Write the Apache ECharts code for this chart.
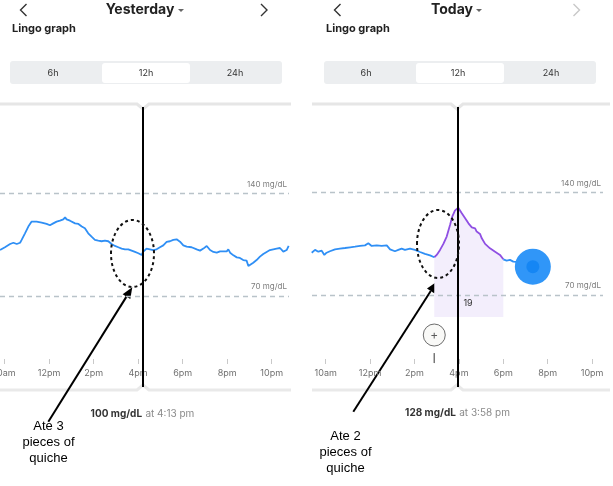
<!DOCTYPE html>
<html>
<head>
<meta charset="utf-8">
<script src="https://cdn.jsdelivr.net/npm/echarts@6/dist/echarts.min.js"></script>
<style>
  html, body { margin: 0; padding: 0; background: #ffffff; }
  #chart { width: 613px; height: 486px; }
</style>
</head>
<body>
<div id="chart"></div>
<script>
// ---------------- data ----------------
const tickHours = [10, 12, 14, 16, 18, 20, 22];
const tickLabels = ['10am', '12pm', '2pm', '4pm', '6pm', '8pm', '10pm'];
const rangeLabels = ['140 mg/dL', '70 mg/dL'];
const rangeValues = [140, 70];

// Yesterday
const leftHours = [9.80,10.02,10.25,10.40,10.55,10.70,10.77,10.92,11.07,11.22,11.29,11.44,11.52,11.67,11.89,12.04,12.19,12.34,12.49,12.64,12.72,12.79,12.94,13.02,13.17,13.32,13.47,13.61,13.76,13.91,14.06,14.21,14.36,14.51,14.66,14.81,14.96,15.11,15.26,15.41,15.56,15.71,15.86,16.01,16.16,16.22,16.38,16.53,16.68,16.83,16.98,17.13,17.28,17.43,17.58,17.73,17.88,18.03,18.18,18.40,18.63,18.78,18.93,19.08,19.15,19.23,19.38,19.53,19.68,19.83,19.98,20.05,20.13,20.28,20.43,20.50,20.57,20.72,20.87,20.95,21.02,21.17,21.32,21.47,21.62,21.77,21.92,22.07,22.22,22.37,22.52,22.67,22.76];
const leftValues = [101.3,103.2,105.4,106.3,105.4,106.3,108.2,112.7,117.3,120.7,121.8,120.7,121.8,120.0,119.1,118.2,119.5,120.7,121.3,122.2,123.6,122.2,121.3,122.2,119.5,119.1,117.3,116.1,112.7,110.4,108.2,107.7,107.3,107.7,107.3,105.4,104.1,103.2,102.3,101.8,101.8,100.9,100.0,99.1,97.9,100.0,102.3,101.8,101.3,101.8,103.2,104.5,106.8,107.3,108.2,108.6,107.0,104.5,103.6,103.2,101.8,100.9,102.3,104.1,103.6,101.3,100.0,99.5,100.4,100.4,100.4,101.8,99.5,97.7,96.3,95.4,95.9,94.5,94.1,90.4,91.3,92.7,94.5,96.8,98.6,100.0,101.3,101.8,102.3,102.7,100.2,101.3,104.1];
const leftCursorHour = 16.22;   // 4:13 pm
const leftReading = '100 mg/dL';
const leftReadingTime = 'at 4:13 pm';

// Today
const rightPreHours = [9.37,9.52,9.67,9.82,9.94,10.04,10.19,10.42,10.64,10.87,11.10,11.32,11.55,11.77,11.92,12.07,12.30,12.52,12.75,12.90,13.12,13.27,13.42,13.57,13.80,14.02,14.25,14.47,14.70,14.89];
const rightPreValues = [98.8,100.7,99.5,100.2,97.3,98.8,99.8,101.1,101.6,102.0,102.5,102.9,103.4,103.8,105.2,103.4,103.8,103.4,103.8,101.1,99.8,100.7,101.6,100.7,101.6,100.7,99.3,98.0,97.0,95.7];
const rightMealHours = [14.89,15.00,15.15,15.30,15.45,15.60,15.70,15.82,15.97,16.13,16.28,16.43,16.58,16.73,16.80,16.95,17.03,17.18,17.40,17.63,17.85,18.00];
const rightMealValues = [95.7,97.3,100.7,104.8,109.8,117.7,123.4,127.5,129.5,125.7,122.3,118.8,116.1,115.4,113.2,111.6,108.6,104.8,101.8,99.5,97.3,94.3];
const rightPostHours = [18.00,18.15,18.30,18.45,18.60,18.75,18.90,19.32];
const rightPostValues = [94.3,93.4,93.9,92.7,92.5,90.4,89.3,89.3];
const latestHour = 19.33;
const latestValue = 89.3;
const rightCursorHour = 15.97;  // 3:58 pm
const rightReading = '128 mg/dL';
const rightReadingTime = 'at 3:58 pm';
const mealHour = 14.89;
const mealScore = '19';

// ---------------- helpers ----------------
const zip = (xs, ys) => xs.map((x, i) => [x, ys[i]]);
const FONT = 'Inter, "Noto Sans", sans-serif';
const BLUE = '#2f8ff5';
const PURPLE = '#8f4fe3';

function labelFor(v) {
  const i = tickHours.findIndex(h => Math.abs(h - v) < 1e-6);
  return i >= 0 ? tickLabels[i] : '';
}

function xAxisFor(gridIndex, min, max) {
  return {
    type: 'value', gridIndex, min, max, offset: -28,
    axisLine: { show: false },
    splitLine: { show: false },
    axisTick: { show: true, customValues: tickHours, length: 5, lineStyle: { color: '#c9c9c9', width: 1 } },
    axisLabel: { customValues: tickHours, formatter: labelFor, fontSize: 9, color: '#6f6f6f', margin: 10, fontFamily: FONT, hideOverlap: false }
  };
}
function yAxisFor(gridIndex, min, max) {
  return { type: 'value', gridIndex, min, max, show: false, splitLine: { show: false } };
}

function rangeMarkLine(cursorHour) {
  return {
    silent: true,
    symbol: 'none',
    animation: false,
    data: [
      { yAxis: rangeValues[0], lineStyle: { color: '#b9c3c9', type: [5, 4], width: 1.3 },
        label: { show: true, position: 'insideEndTop', formatter: rangeLabels[0], color: '#7d7d7d', fontSize: 8, fontFamily: FONT, distance: [2, 5] } },
      { yAxis: rangeValues[1], lineStyle: { color: '#b9c3c9', type: [5, 4], width: 1.3 },
        label: { show: true, position: 'insideEndTop', formatter: rangeLabels[1], color: '#7d7d7d', fontSize: 8, fontFamily: FONT, distance: [2, 5] } },
      { xAxis: cursorHour, lineStyle: { color: '#000', type: 'solid', width: 2 }, label: { show: false } }
    ]
  };
}

function arrow(x1, y1, x2, y2) {
  const dx = x2 - x1, dy = y2 - y1, L = Math.hypot(dx, dy);
  const ux = dx / L, uy = dy / L, px = -uy, py = ux;
  const hl = 11, hw = 4.5;
  const bx = x2 - ux * hl, by = y2 - uy * hl;
  return [
    { type: 'line', shape: { x1, y1, x2: bx, y2: by }, style: { stroke: '#000', lineWidth: 2 } },
    { type: 'polygon', shape: { points: [[x2, y2], [bx + px * hw, by + py * hw], [bx - px * hw, by - py * hw]] }, style: { fill: '#000' } }
  ];
}

function chevron(x, dir, color) {
  return { type: 'polyline', shape: { points: [[x + 3 * dir, 4], [x - 3 * dir, 10], [x + 3 * dir, 16]] }, style: { stroke: color, lineWidth: 1.4, fill: 'none' } };
}

function header(cx, title, leftX, rightX, rightColor, segX, segW, selX, selW, segLabels) {
  const els = [
    chevron(leftX, 1, '#333'),
    chevron(rightX, -1, rightColor),
    { type: 'text', x: cx, y: 10, style: { text: title, font: 'bold 14px ' + FONT, fill: '#222', align: 'center', verticalAlign: 'middle' } },
    { type: 'text', x: segX + 2, y: 29, style: { text: 'Lingo graph', font: 'bold 11px ' + FONT, fill: '#222', align: 'left', verticalAlign: 'middle' } },
    { type: 'rect', shape: { x: segX, y: 61, width: segW, height: 23, r: 3 }, style: { fill: '#eceef0' } },
    { type: 'rect', shape: { x: selX, y: 63, width: selW, height: 20, r: 3 }, style: { fill: '#ffffff' } }
  ];
  segLabels.forEach(s => els.push({ type: 'text', x: s[0], y: 73, style: { text: s[1], font: '9px ' + FONT, fill: '#333', align: 'center', verticalAlign: 'middle' } }));
  return els;
}

function cardEdges(x0, x1, notchX) {
  return [
    { type: 'polyline', shape: { points: [[x0, 104], [notchX - 6, 104], [notchX, 109], [notchX + 6, 104], [x1, 104]] }, style: { stroke: '#e6e6e6', lineWidth: 3, fill: 'none' } },
    { type: 'polyline', shape: { points: [[x0, 390], [notchX - 6, 390], [notchX, 385], [notchX + 6, 390], [x1, 390]] }, style: { stroke: '#e9e9e9', lineWidth: 3, fill: 'none' } }
  ];
}

function reading(cx, y, value, time) {
  return { type: 'text', x: cx, y, style: {
    text: '{b|' + value + '} {g|' + time + '}', align: 'center', verticalAlign: 'middle',
    rich: { b: { fontSize: 10, fontWeight: 'bold', fill: '#333', color: '#333', fontFamily: FONT },
            g: { fontSize: 10, fill: '#8a8a8a', color: '#8a8a8a', fontFamily: FONT } } } };
}

function note(cx, y0, lines) {
  return lines.map((t, i) => ({ type: 'text', x: cx, y: y0 + i * 16, style: { text: t, font: '13px "Liberation Sans", Arial, sans-serif', fill: '#000', align: 'center', verticalAlign: 'middle' } }));
}

// ---------------- option ----------------
const graphic = [].concat(
  header(140, 'Yesterday', 23.5, 264, '#333', 10, 272, 102, 88, [[53, '6h'], [146, '12h'], [235, '24h']]),
  [{ type: 'polygon', shape: { points: [[178, 9], [184, 9], [181, 12]] }, style: { fill: '#666' } }],
  header(452, 'Today', 337.5, 576.5, '#c8c8c8', 324, 272, 416, 88, [[366, '6h'], [458, '12h'], [551, '24h']]),
  [{ type: 'polygon', shape: { points: [[476, 9], [482, 9], [479, 12]] }, style: { fill: '#666' } }],
  cardEdges(0, 291, 143),
  cardEdges(312, 610, 457),
  [reading(142.5, 414, leftReading, leftReadingTime), reading(457.5, 413, rightReading, rightReadingTime)],
  [
    { type: 'ellipse', shape: { cx: 132.5, cy: 253.5, rx: 21.5, ry: 33.5 }, style: { fill: 'none', stroke: '#111', lineWidth: 2, lineDash: [3, 3] }, z: 100 },
    { type: 'ellipse', shape: { cx: 438, cy: 244, rx: 21, ry: 34 }, style: { fill: 'none', stroke: '#111', lineWidth: 2, lineDash: [3, 3] }, z: 100 }
  ],
  arrow(48.3, 421.7, 132.3, 287.3),
  arrow(353.3, 411.7, 436.7, 281.7),
  note(48.5, 426, ['Ate 3', 'pieces of', 'quiche']),
  note(345.5, 436, ['Ate 2', 'pieces of', 'quiche'])
);

const option = {
  animation: false,
  backgroundColor: '#ffffff',
  grid: [
    { left: 0, top: 107, width: 289, height: 280, containLabel: false, outerBoundsMode: 'none' },
    { left: 312, top: 107, width: 291, height: 280, containLabel: false, outerBoundsMode: 'none' }
  ],
  xAxis: [xAxisFor(0, 9.798, 22.775), xAxisFor(1, 9.383, 22.49)],
  yAxis: [yAxisFor(0, 7.96, 198.8), yAxisFor(1, 7.28, 198.1)],
  series: [
    { type: 'line', xAxisIndex: 0, yAxisIndex: 0, data: zip(leftHours, leftValues), showSymbol: false, smooth: false,
      lineStyle: { color: BLUE, width: 1.8 }, itemStyle: { color: BLUE }, markLine: rangeMarkLine(leftCursorHour), z: 3 },
    { type: 'line', xAxisIndex: 1, yAxisIndex: 1, data: zip(rightPreHours, rightPreValues), showSymbol: false,
      lineStyle: { color: BLUE, width: 1.8 }, itemStyle: { color: BLUE }, markLine: rangeMarkLine(rightCursorHour), z: 3 },
    { type: 'line', xAxisIndex: 1, yAxisIndex: 1, data: zip(rightMealHours, rightMealValues), showSymbol: false,
      lineStyle: { color: PURPLE, width: 1.8 }, itemStyle: { color: PURPLE },
      areaStyle: { color: '#f3eefc', opacity: 1, origin: 55 }, z: 2,
      markPoint: { symbol: 'circle', symbolSize: 1, itemStyle: { color: 'rgba(0,0,0,0)' },
        label: { show: true, position: 'inside', formatter: mealScore, color: '#333', fontSize: 9, fontFamily: FONT },
        data: [{ coord: [16.41, 64.5] }] } },
    { type: 'line', xAxisIndex: 1, yAxisIndex: 1, data: zip(rightPostHours, rightPostValues), showSymbol: false,
      lineStyle: { color: BLUE, width: 1.8 }, itemStyle: { color: BLUE }, z: 3 },
    { type: 'scatter', xAxisIndex: 1, yAxisIndex: 1, data: [[latestHour, latestValue]], symbolSize: 36,
      itemStyle: { color: '#3096f8', opacity: 1 }, z: 5 },
    { type: 'scatter', xAxisIndex: 1, yAxisIndex: 1, data: [[latestHour, latestValue]], symbolSize: 13,
      itemStyle: { color: '#0f82f2' }, z: 6 },
    { type: 'scatter', xAxisIndex: 1, yAxisIndex: 1, data: [[mealHour, 42.7]], symbolSize: 22,
      itemStyle: { color: '#f7f7f5', borderColor: '#4a4a4a', borderWidth: 1 },
      label: { show: true, position: 'inside', formatter: '+', color: '#333', fontSize: 12, fontFamily: FONT }, z: 5 },
    { type: 'scatter', xAxisIndex: 1, yAxisIndex: 1, data: [[mealHour, 27]], symbol: 'rect', symbolSize: [1.5, 10],
      itemStyle: { color: '#555' }, z: 5 }
  ],
  graphic
};

const chart = echarts.init(document.getElementById('chart'), null, { renderer: 'canvas' });
chart.setOption(option);
</script>
</body>
</html>
